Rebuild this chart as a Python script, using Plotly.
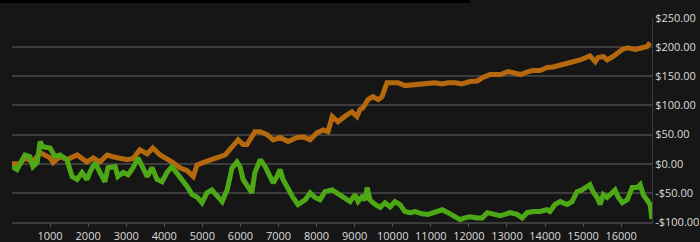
import plotly.graph_objects as go

orange_x = [0, 210, 340, 550, 740, 1000, 1080, 1260, 1450, 1580, 1710, 1970, 2130, 2310, 2500, 2650, 2840, 3020, 3180, 3360, 3550, 3700, 3890, 4070, 4230, 4410, 4600, 4760, 4860, 5070, 5330, 5600, 5780, 5940, 6070, 6170, 6380, 6520, 6700, 6860, 7040, 7250, 7490, 7650, 7830, 8010, 8170, 8300, 8410, 8560, 8800, 8930, 9060, 9140, 9220, 9350, 9480, 9620, 9720, 9800, 9850, 9980, 10140, 10320, 10590, 10850, 11110, 11300, 11450, 11640, 11820, 12030, 12220, 12370, 12560, 12820, 13030, 13160, 13350, 13560, 13690, 13870, 14060, 14210, 14400, 14580, 14740, 14920, 15110, 15180, 15320, 15390, 15530, 15630, 15790, 15920, 16030, 16180, 16370, 16550, 16680, 16760]
orange_y = [0, 0, 10, 3, 19, 10, 2, 12, 7, 12, 15, 3, 10, 3, 15, 12, 10, 7, 9, 24, 17, 27, 15, 9, 2, -7, -12, -22, -2, 3, 10, 15, 29, 41, 33, 33, 55, 55, 50, 41, 45, 38, 45, 46, 41, 53, 58, 55, 81, 72, 84, 89, 81, 93, 96, 110, 115, 110, 115, 127, 139, 139, 139, 134, 136, 137, 139, 137, 139, 139, 137, 141, 142, 148, 153, 153, 158, 156, 153, 158, 160, 160, 165, 166, 170, 173, 175, 178, 182, 185, 175, 182, 184, 178, 184, 190, 196, 199, 196, 199, 201, 208]

green_x = [0, 130, 340, 470, 550, 660, 740, 810, 1000, 1130, 1260, 1440, 1580, 1710, 1840, 1970, 2050, 2180, 2310, 2440, 2520, 2710, 2780, 2920, 3050, 3180, 3310, 3440, 3550, 3680, 3810, 3940, 4070, 4200, 4330, 4470, 4600, 4730, 4860, 4990, 5120, 5250, 5390, 5520, 5650, 5780, 5910, 5990, 6070, 6200, 6300, 6380, 6520, 6650, 6780, 6860, 6960, 7040, 7120, 7250, 7380, 7510, 7700, 7830, 7960, 8090, 8220, 8410, 8540, 8700, 8880, 9010, 9090, 9190, 9270, 9330, 9400, 9540, 9670, 9800, 9930, 10060, 10190, 10320, 10460, 10590, 10770, 10930, 11110, 11300, 11450, 11640, 11770, 11900, 12030, 12220, 12350, 12480, 12640, 12820, 12950, 13080, 13270, 13400, 13530, 13690, 13870, 14050, 14130, 14260, 14400, 14580, 14710, 14840, 14970, 15110, 15180, 15260, 15370, 15450, 15530, 15630, 15760, 15840, 15920, 16030, 16160, 16290, 16420, 16500, 16580, 16680, 16760, 16810]
green_y = [-5, -10, 15, 12, -5, 2, 38, 29, 27, 12, 15, 7, -22, -27, -15, -27, -14, 2, -15, -31, -7, -5, -22, -15, -19, -7, 10, -7, -22, -7, -27, -31, -15, -5, -15, -27, -39, -53, -57, -67, -50, -45, -57, -65, -45, -7, 3, -5, -27, -41, -50, -15, 7, -5, -22, -33, -22, -10, -27, -45, -58, -70, -62, -50, -58, -62, -48, -45, -50, -57, -65, -53, -65, -57, -62, -41, -62, -70, -75, -67, -74, -65, -70, -82, -84, -82, -86, -87, -82, -79, -84, -91, -96, -93, -91, -93, -93, -84, -87, -89, -87, -84, -87, -93, -84, -82, -82, -79, -82, -70, -65, -70, -65, -48, -45, -39, -36, -48, -58, -70, -53, -58, -50, -45, -57, -67, -62, -41, -41, -36, -53, -62, -70, -95]

x_tick_vals = list(range(1000, 17000, 1000))
x_tick_text = [str(v) for v in x_tick_vals]
y_tick_vals = [-100, -50, 0, 50, 100, 150, 200, 250]
y_tick_text = ["-$100.00", "-$50.00", "$0.00", "$50.00", "$100.00", "$150.00", "$200.00", "$250.00"]

fig = go.Figure()
fig.add_trace(go.Scatter(x=orange_x, y=orange_y, mode="lines",
                         line=dict(color="#b6680f", width=5), showlegend=False))
fig.add_trace(go.Scatter(x=green_x, y=green_y, mode="lines",
                         line=dict(color="#4da816", width=5), showlegend=False))

fig.update_layout(
    width=700, height=242,
    margin=dict(l=12, r=48, t=18, b=20),
    paper_bgcolor="#161616", plot_bgcolor="#161616",
    font=dict(family="Open Sans", size=11, color="#dcdcdc"),
    xaxis=dict(range=[0, 16810], tickvals=x_tick_vals, ticktext=x_tick_text,
               showgrid=False, zeroline=False, automargin=False,
               ticks="outside", ticklen=3, tickcolor="#555555",
               showline=True, linecolor="#3c3c3c", linewidth=2,
               tickfont=dict(size=11, color="#dcdcdc")),
    yaxis=dict(range=[-100, 250], side="right", tickvals=y_tick_vals, ticktext=y_tick_text,
               showgrid=True, gridcolor="#3c3c3c", gridwidth=2, zeroline=False, automargin=False,
               showline=True, linecolor="#3c3c3c", linewidth=1, ticks="",
               tickfont=dict(size=11, color="#dcdcdc")),
    shapes=[dict(type="rect", xref="paper", yref="paper", x0=-0.02, x1=0.7156,
                 y0=1.0735, y1=1.1, fillcolor="#000000", line=dict(width=0), layer="above")],
)

fig.write_html("out.html")
